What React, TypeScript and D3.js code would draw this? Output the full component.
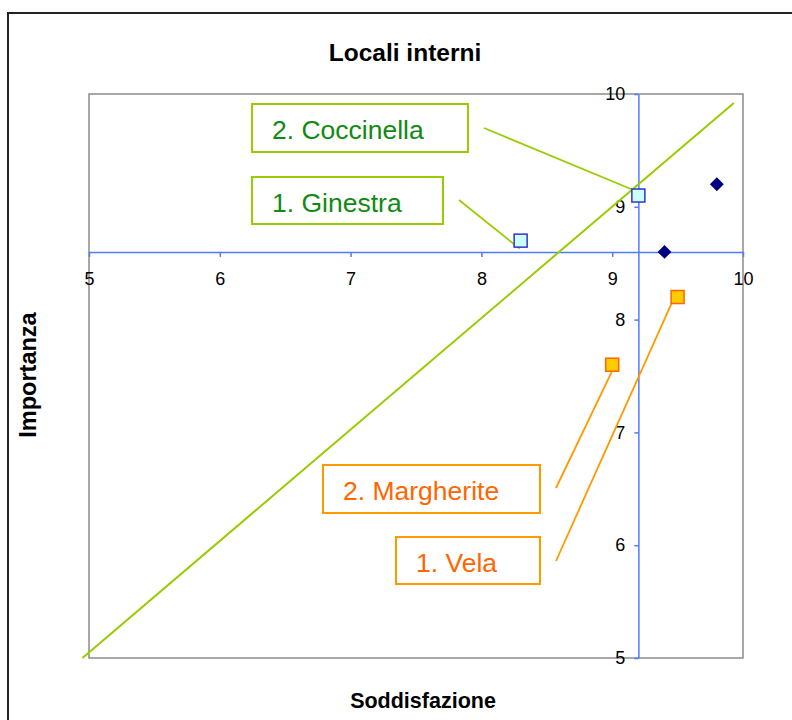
import { useEffect, useRef } from "react";
import * as d3 from "d3";

// axis ticks
const xTicks = [5, 6, 7, 8, 9, 10];
const yTicks = [5, 6, 7, 8, 9, 10];

// series
const blueSquares = [
  { x: 8.3, y: 8.7 },
  { x: 9.2, y: 9.1 },
];
const navyDiamonds = [
  { x: 9.4, y: 8.6 },
  { x: 9.8, y: 9.2 },
];
const orangeSquares = [
  { x: 9.0, y: 7.6 },
  { x: 9.5, y: 8.2 },
];
const diagonal = [
  { x: 4.95, y: 5.0 },
  { x: 9.93, y: 9.92 },
];
// where the axes cross
const crossAt = { x: 9.2, y: 8.6 };

// callouts
const calloutLabels = ["2. Coccinella", "1. Ginestra", "2. Margherite", "1. Vela"];
const calloutTargets = [blueSquares[1], blueSquares[0], orangeSquares[0], orangeSquares[1]];

const App = () => {
  const svgRef = useRef<SVGSVGElement | null>(null);

  useEffect(() => {
    drawChart();
  }, []);

  const drawChart = () => {
    const W = 792;
    const H = 720;
    const left = 89;
    const right = 743;
    const top = 94;
    const bottom = 658;
    const axisBlue = "#4f7bff";
    const green = "#99cc00";
    const orange = "#ff9900";

    const svg = d3.select(svgRef.current).attr("width", W).attr("height", H);
    svg.selectAll("*").remove();

    // chart frame
    svg
      .append("rect")
      .attr("x", 8)
      .attr("y", 13)
      .attr("width", 800)
      .attr("height", 720)
      .attr("fill", "white")
      .attr("stroke", "#222")
      .attr("stroke-width", 2);

    const x = d3.scaleLinear().domain([5, 10]).range([left, right]);
    const y = d3.scaleLinear().domain([5, 10]).range([bottom, top]);

    // plot area
    svg
      .append("rect")
      .attr("x", left)
      .attr("y", top)
      .attr("width", right - left)
      .attr("height", bottom - top)
      .attr("fill", "none")
      .attr("stroke", "#8c8c8c")
      .attr("stroke-width", 1.5);

    const font = "Arial, 'Liberation Sans', sans-serif";
    const fmt = d3.format("d");

    // x axis (crosses at y = 8.6)
    const xAxis = d3
      .axisBottom(x)
      .tickValues(xTicks)
      .tickFormat((d: any) => fmt(d))
      .tickSize(5)
      .tickSizeOuter(0)
      .tickPadding(15);
    const gx = svg
      .append("g")
      .attr("transform", `translate(0, ${y(crossAt.y)})`)
      .call(xAxis);
    gx.select(".domain").attr("stroke", axisBlue).attr("stroke-width", 1.5);
    gx.selectAll(".tick line").attr("stroke", axisBlue).attr("stroke-width", 1.5);
    gx.selectAll(".tick text")
      .attr("font-family", font)
      .attr("font-size", 18)
      .attr("fill", "#000");

    // y axis (crosses at x = 9.2)
    const yAxis = d3
      .axisLeft(y)
      .tickValues(yTicks)
      .tickFormat((d: any) => fmt(d))
      .tickSize(4)
      .tickSizeOuter(0)
      .tickPadding(9);
    const gy = svg
      .append("g")
      .attr("transform", `translate(${x(crossAt.x)}, 0)`)
      .call(yAxis);
    gy.select(".domain").attr("stroke", axisBlue).attr("stroke-width", 1.5);
    gy.selectAll(".tick line").attr("stroke", axisBlue).attr("stroke-width", 1.5);
    gy.selectAll(".tick text")
      .attr("font-family", font)
      .attr("font-size", 18)
      .attr("fill", "#000");

    // diagonal
    const line = d3
      .line<{ x: number; y: number }>()
      .x((d) => x(d.x))
      .y((d) => y(d.y));
    svg
      .append("path")
      .attr("d", line(diagonal))
      .attr("fill", "none")
      .attr("stroke", green)
      .attr("stroke-width", 2);

    // callout boxes (layout in px)
    const boxes = [
      { bx: 252, by: 104, bw: 216, bh: 48, lx: 484, ly: 128, dx: 1, dy: -3, stroke: green, text: "#118a11" },
      { bx: 252, by: 177, bw: 191, bh: 47, lx: 459, ly: 200, dx: -1, dy: 8, stroke: green, text: "#118a11" },
      { bx: 323, by: 465, bw: 217, bh: 48, lx: 556, ly: 488, dx: 3, dy: 0, stroke: orange, text: "#ff6600" },
      { bx: 396, by: 537, bw: 144, bh: 47, lx: 556, ly: 561, dx: -5, dy: 4, stroke: orange, text: "#ff6600" },
    ];

    boxes.forEach((b, i) => {
      const t = calloutTargets[i];
      svg
        .append("line")
        .attr("x1", b.lx)
        .attr("y1", b.ly)
        .attr("x2", x(t.x) + b.dx)
        .attr("y2", y(t.y) + b.dy)
        .attr("stroke", b.stroke)
        .attr("stroke-width", 1.8);
      svg
        .append("rect")
        .attr("x", b.bx)
        .attr("y", b.by)
        .attr("width", b.bw)
        .attr("height", b.bh)
        .attr("fill", "white")
        .attr("stroke", b.stroke)
        .attr("stroke-width", 2);
      svg
        .append("text")
        .attr("x", b.bx + 20)
        .attr("y", b.by + 35)
        .attr("font-family", font)
        .attr("font-size", 26.5)
        .attr("fill", b.text)
        .text(calloutLabels[i]);
    });

    // markers
    svg
      .selectAll(".blue")
      .data(blueSquares)
      .join("rect")
      .attr("x", (d) => x(d.x) - 6.5)
      .attr("y", (d) => y(d.y) - 6.5)
      .attr("width", 13)
      .attr("height", 13)
      .attr("fill", "#ccffff")
      .attr("stroke", "#3333cc")
      .attr("stroke-width", 1.5);

    svg
      .selectAll(".navy")
      .data(navyDiamonds)
      .join("path")
      .attr("d", d3.symbol(d3.symbolSquare, 96)())
      .attr("transform", (d) => `translate(${x(d.x)}, ${y(d.y)}) rotate(45)`)
      .attr("fill", "#000080");

    svg
      .selectAll(".orange")
      .data(orangeSquares)
      .join("rect")
      .attr("x", (d) => x(d.x) - 6.5)
      .attr("y", (d) => y(d.y) - 6.5)
      .attr("width", 13)
      .attr("height", 13)
      .attr("fill", "#ffcc00")
      .attr("stroke", "#ff6600")
      .attr("stroke-width", 1.5);

    // titles
    svg
      .append("text")
      .attr("x", 405)
      .attr("y", 61)
      .attr("text-anchor", "middle")
      .attr("font-family", font)
      .attr("font-weight", "bold")
      .attr("font-size", 24.5)
      .text("Locali interni");

    svg
      .append("text")
      .attr("x", 423)
      .attr("y", 708)
      .attr("text-anchor", "middle")
      .attr("font-family", font)
      .attr("font-weight", "bold")
      .attr("font-size", 21.5)
      .text("Soddisfazione");

    svg
      .append("text")
      .attr("transform", "translate(36, 375) rotate(-90)")
      .attr("text-anchor", "middle")
      .attr("font-family", font)
      .attr("font-weight", "bold")
      .attr("font-size", 23.5)
      .text("Importanza");
  };

  return (
    <div style={{ position: "absolute", left: 0, top: 0 }}>
      <svg ref={svgRef} style={{ display: "block" }}></svg>
    </div>
  );
};

export default App;
